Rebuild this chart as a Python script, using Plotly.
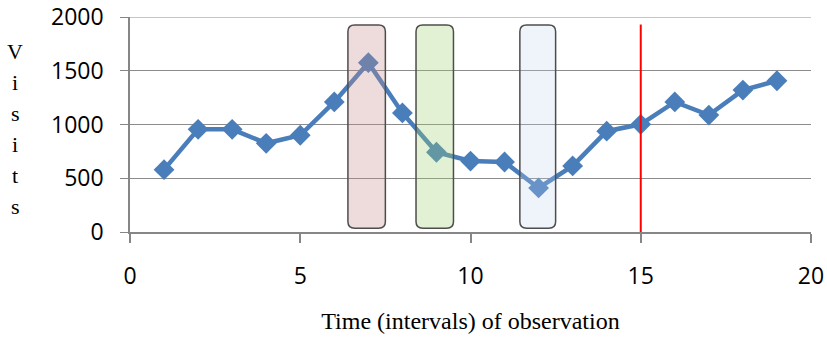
import plotly.graph_objects as go

time_x = list(range(1, 20))
visits = [580, 955, 955, 825, 900, 1210, 1575, 1108, 742, 660, 651, 410, 615, 938, 1002, 1210, 1088, 1320, 1407]

y_ticks = [0, 500, 1000, 1500, 2000]
x_ticks = [0, 5, 10, 15, 20]

# highlighted windows: (x0, x1, fill colour)
boxes_x0 = [6.4, 8.4, 11.45]
boxes_x1 = [7.5, 9.5, 12.5]
boxes_fill = ["rgba(200,140,140,0.30)", "rgba(160,210,110,0.30)", "rgba(190,210,240,0.25)"]
box_y0, box_y1 = 35, 1925
marker_x = 15
marker_y1 = 1930

y_letters = ["V", "i", "s", "i", "t", "s"]

fig = go.Figure()
fig.add_trace(go.Scatter(
    x=time_x, y=visits, mode="lines+markers",
    line=dict(color="#4a7ebb", width=4.5),
    marker=dict(symbol="diamond", size=16, color="#4a7ebb"),
    showlegend=False,
))

# top gridline (at the axis maximum)
fig.add_shape(type="line", xref="paper", yref="y", x0=0, x1=1,
              y0=y_ticks[-1], y1=y_ticks[-1],
              line=dict(color="#8c8c8c", width=1.2), layer="below")

rx, ry = 0.2, 60
for x0, x1, fc in zip(boxes_x0, boxes_x1, boxes_fill):
    path = (f"M {x0+rx},{box_y0} L {x1-rx},{box_y0} Q {x1},{box_y0} {x1},{box_y0+ry} "
            f"L {x1},{box_y1-ry} Q {x1},{box_y1} {x1-rx},{box_y1} "
            f"L {x0+rx},{box_y1} Q {x0},{box_y1} {x0},{box_y1-ry} "
            f"L {x0},{box_y0+ry} Q {x0},{box_y0} {x0+rx},{box_y0} Z")
    fig.add_shape(type="path", path=path, xref="x", yref="y",
                  fillcolor=fc, line=dict(color="#4d4d4d", width=1.5), layer="above")

fig.add_shape(type="line", x0=marker_x, x1=marker_x, y0=0, y1=marker_y1,
              xref="x", yref="y", line=dict(color="#ff0000", width=2), layer="above")

for i, ch in enumerate(y_letters):
    fig.add_annotation(text=ch, xref="paper", yref="paper", x=0, y=1,
                       xanchor="center", yanchor="middle",
                       xshift=-115, yshift=-34 - 31 * i, showarrow=False,
                       font=dict(family="Liberation Serif", size=22, color="black"))

fig.update_layout(
    width=827, height=337,
    margin=dict(l=130, r=16, t=17, b=105, autoexpand=False),
    paper_bgcolor="white", plot_bgcolor="white",
    font=dict(family="Open Sans", color="black"),
    xaxis=dict(range=[0, 20], tickvals=x_ticks, showgrid=False,
               showline=True, linecolor="#868686", linewidth=1.5,
               ticks="outside", ticklen=9, tickcolor="#868686", tickwidth=1.5,
               tickfont=dict(size=23, family="Open Sans"), ticklabelstandoff=14,
               zeroline=False, automargin=False,
               title=dict(text="Time (intervals) of observation",
                          font=dict(family="Liberation Serif", size=24), standoff=22)),
    yaxis=dict(range=[0, 2000], tickvals=y_ticks,
               showgrid=True, gridcolor="#8c8c8c", gridwidth=1.2,
               showline=True, linecolor="#868686", linewidth=1.5,
               ticks="outside", ticklen=8, tickcolor="#868686", tickwidth=1.2,
               tickfont=dict(size=23, family="Open Sans"), ticklabelstandoff=12,
               zeroline=False, automargin=False),
)

fig.write_html("out.html")
